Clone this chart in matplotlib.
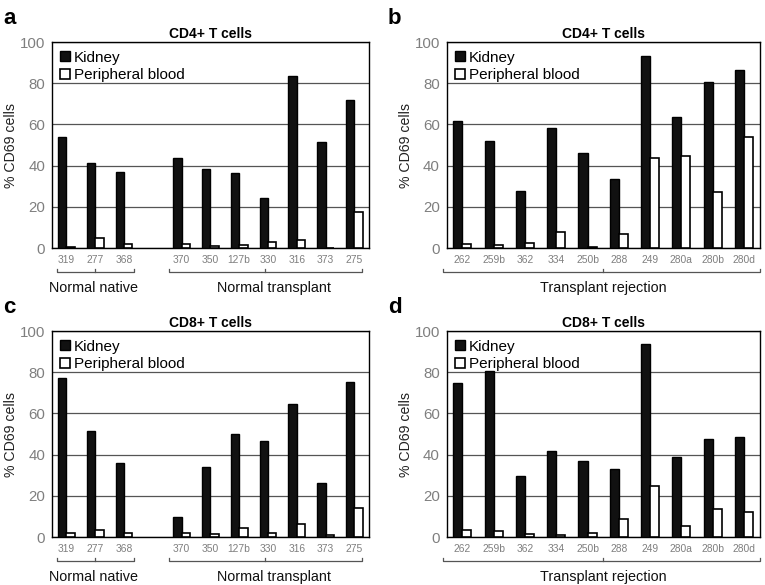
import numpy as np
import matplotlib
matplotlib.use("Agg")
import matplotlib.pyplot as plt
import matplotlib.transforms as mtransforms
from matplotlib.patches import Patch

plt.rcParams['font.family'] = ['Liberation Sans', 'DejaVu Sans']

# sample ids ("" = empty gap slot)
normal_ids = ["319", "277", "368", "", "370", "350", "127b", "330", "316", "373", "275"]
reject_ids = ["262", "259b", "362", "334", "250b", "288", "249", "280a", "280b", "280d"]

# % CD69 cells, CD4+
cd4_normal_kidney = [54.0, 41.5, 37.1, 0, 43.7, 38.2, 36.6, 24.5, 83.5, 51.5, 71.9]
cd4_normal_blood = [0.5, 4.8, 1.9, 0, 1.9, 1.0, 1.3, 2.7, 4.0, 0.0, 17.7]
cd4_reject_kidney = [61.8, 52.1, 27.9, 58.4, 46.0, 33.5, 93.5, 63.7, 80.6, 86.3]
cd4_reject_blood = [1.8, 1.5, 2.3, 7.7, 0.5, 6.9, 43.7, 44.8, 27.3, 54.0]

# % CD69 cells, CD8+
cd8_normal_kidney = [77.3, 51.3, 36.1, 0, 9.5, 34.0, 50.0, 46.8, 64.4, 26.4, 75.2]
cd8_normal_blood = [1.9, 3.2, 1.9, 0, 1.9, 1.3, 4.4, 1.8, 6.3, 0.8, 13.9]
cd8_reject_kidney = [74.8, 80.7, 29.6, 41.7, 37.1, 33.2, 93.7, 39.0, 47.4, 48.5]
cd8_reject_blood = [3.2, 2.9, 1.5, 0.8, 2.1, 8.7, 24.6, 5.2, 13.8, 12.3]

# groups: (label, bracket start, bracket end, centre tick, text x)
normal_groups = [("Normal native", -0.33, 2.33, 1.0, 0.95),
                 ("Normal transplant", 3.58, 10.28, 6.9, 7.2)]
reject_groups = [("Transplant rejection", -0.62, 9.52, 4.48, 4.5)]

fig = plt.figure(figsize=(7.65, 5.85), dpi=100)

panels = [
    ("a", "CD4+ T cells", normal_ids, cd4_normal_kidney, cd4_normal_blood, normal_groups, [0.068, 0.576, 0.414, 0.352]),
    ("b", "CD4+ T cells", reject_ids, cd4_reject_kidney, cd4_reject_blood, reject_groups, [0.584, 0.576, 0.409, 0.352]),
    ("c", "CD8+ T cells", normal_ids, cd8_normal_kidney, cd8_normal_blood, normal_groups, [0.068, 0.082, 0.414, 0.352]),
    ("d", "CD8+ T cells", reject_ids, cd8_reject_kidney, cd8_reject_blood, reject_groups, [0.584, 0.082, 0.409, 0.352]),
]

w = 0.29
grey = "#7f7f7f"

for letter, title, ids, kidney, blood, groups, pos in panels:
    ax = fig.add_axes(pos)
    x = np.arange(len(ids))
    keep = np.array([s != "" for s in ids])
    ax.bar(x[keep] - w / 2, np.array(kidney)[keep], w, color="#111111",
           edgecolor="black", linewidth=1, zorder=3)
    ax.bar(x[keep] + w / 2, np.array(blood)[keep], w, color="white",
           edgecolor="black", linewidth=1.2, zorder=3)

    ax.set_xlim(-0.5, len(ids) - 0.5)
    ax.set_ylim(0, 100)
    ax.set_yticks([0, 20, 40, 60, 80, 100])
    ax.yaxis.grid(True, color="#555555", linewidth=0.9, zorder=0)
    ax.set_axisbelow(True)
    ax.set_xticks(x)
    ax.set_xticklabels(ids, fontsize=7.4, color=grey)
    ax.tick_params(axis="both", length=0)
    ax.tick_params(axis="x", pad=5)
    ax.tick_params(axis="y", labelsize=10.8, labelcolor=grey, pad=5)
    for s in ax.spines.values():
        s.set_color("black")
        s.set_linewidth(1)
    ax.set_ylabel("% CD69 cells", fontsize=10.2, color="#222222", labelpad=1)
    ax.set_title(title, fontsize=10, fontweight="bold", pad=3)

    handles = [Patch(facecolor="#111111", edgecolor="black", label="Kidney"),
               Patch(facecolor="white", edgecolor="black", linewidth=1.2, label="Peripheral blood")]
    ax.legend(handles=handles, loc="upper left", frameon=False, fontsize=11,
              handlelength=0.65, handleheight=0.65, handletextpad=0.25,
              labelspacing=0.25, borderaxespad=0.15, borderpad=0.4)

    # group brackets below the axis
    tr = mtransforms.blended_transform_factory(ax.transData, ax.transAxes)
    yb = -0.117
    tk = 0.014
    for label, x0, x1, xc, xt in groups:
        ax.plot([x0, x0, x1, x1], [yb + tk, yb, yb, yb + tk], color="#555555",
                linewidth=0.9, transform=tr, clip_on=False)
        ax.plot([xc, xc], [yb, yb + tk], color="#555555", linewidth=0.9,
                transform=tr, clip_on=False)
        ax.text(xt, -0.195, label, transform=tr, ha="center", va="center",
                fontsize=10.4, color="#111111")

    fig.text(pos[0] - 0.064 if letter in "ac" else pos[0] - 0.077,
             pos[1] + pos[3] + 0.04, letter, fontsize=16, fontweight="bold",
             ha="left", va="center")

fig.savefig("out.png", dpi=100)
